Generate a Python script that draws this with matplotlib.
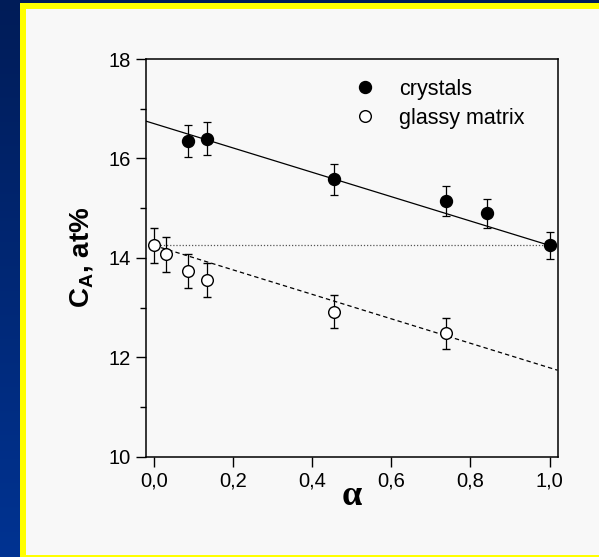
import numpy as np
import matplotlib
matplotlib.use("Agg")
import matplotlib.pyplot as plt
from matplotlib.lines import Line2D
from matplotlib.patches import Rectangle
from matplotlib.ticker import MultipleLocator, FixedLocator

# ---- data ----
alpha_crystals = [0.087, 0.135, 0.456, 0.738, 0.842, 1.0]
c_crystals = [16.35, 16.40, 15.58, 15.15, 14.90, 14.25]
err_crystals = [0.33, 0.33, 0.31, 0.30, 0.29, 0.28]

alpha_glassy = [0.0, 0.03, 0.087, 0.135, 0.456, 0.738]
c_glassy = [14.25, 14.07, 13.74, 13.56, 12.92, 12.48]
err_glassy = [0.35, 0.35, 0.34, 0.34, 0.33, 0.31]

crystal_line_alpha = [-0.02, 1.0]
crystal_line_c = [16.75, 14.25]
glassy_line_alpha = [0.0, 1.02]
glassy_line_c = [14.25, 11.74]
level_line_alpha = [0.0, 1.0]
level_line_c = [14.25, 14.25]

x_ticks = [0.0, 0.2, 0.4, 0.6, 0.8, 1.0]
x_tick_labels = ["0,0", "0,2", "0,4", "0,6", "0,8", "1,0"]
y_ticks = [10, 12, 14, 16, 18]
legend_labels = ["crystals", "glassy matrix"]

W, H = 599, 557
fig = plt.figure(figsize=(W / 100, H / 100), dpi=100)

# background gradient
bg = fig.add_axes([0, 0, 1, 1], zorder=-10)
bg.set_axis_off()
top = np.array([0x00, 0x1c, 0x58]) / 255
bot = np.array([0x00, 0x33, 0x92]) / 255
t = np.linspace(0, 1, 256)[:, None]
grad = (top[None, :] * (1 - t) + bot[None, :] * t)[:, None, :]
bg.imshow(grad, aspect="auto", extent=[0, 1, 0, 1], origin="upper")
bg.set_xlim(0, 1)
bg.set_ylim(0, 1)
# yellow framed panel
bg.add_patch(Rectangle((20 / W, 1 - 561 / H), 600 / W, 558 / H, facecolor="#ffff00", edgecolor="none"))
bg.add_patch(Rectangle((26 / W, 1 - 555 / H), 600 / W, 546 / H, facecolor="#f8f8f8", edgecolor="none"))

plt.rcParams["font.family"] = ["Liberation Sans", "DejaVu Sans"]

ax = fig.add_axes([146 / W, 1 - 456.7 / H, (557.5 - 146) / W, (456.7 - 59) / H])
ax.set_facecolor("none")

ax.plot(crystal_line_alpha, crystal_line_c, color="black", lw=0.9, zorder=2)
ax.plot(glassy_line_alpha, glassy_line_c, color="black", lw=0.9, dashes=(3.5, 2.5), zorder=2)
ax.plot(level_line_alpha, level_line_c, color="#555555", lw=0.9, dashes=(1, 1.5), zorder=2)

ax.errorbar(alpha_crystals, c_crystals, yerr=err_crystals, fmt="o", color="black",
            mfc="black", mec="black", ms=8.6, elinewidth=0.9, capsize=3, capthick=0.9, zorder=3)
ax.errorbar(alpha_glassy, c_glassy, yerr=err_glassy, fmt="o", color="black",
            mfc="white", mec="black", mew=1.0, ms=8.4, elinewidth=0.9, capsize=3, capthick=0.9, zorder=3)

ax.set_xlim(-0.02, 1.02)
ax.set_ylim(10, 18)
ax.xaxis.set_major_locator(FixedLocator(x_ticks))
ax.set_xticklabels(x_tick_labels)
ax.yaxis.set_major_locator(FixedLocator(y_ticks))
ax.yaxis.set_minor_locator(MultipleLocator(1))
ax.tick_params(axis="both", which="major", direction="out", length=7, width=1.0,
               labelsize=14.5, colors="black", pad=4)
ax.tick_params(axis="y", which="minor", direction="out", length=4, width=1.0)
for s in ax.spines.values():
    s.set_linewidth(1.1)

ax.set_ylabel(r"C$_\mathregular{A}$, at%", fontsize=20, fontweight="bold", labelpad=9)
ax.set_xlabel("α", fontsize=26, fontweight="bold",
              family=["Liberation Serif", "DejaVu Serif"], labelpad=-8)

handles = [Line2D([], [], ls="none", marker="o", ms=8.6, mfc="black", mec="black"),
           Line2D([], [], ls="none", marker="o", ms=8.4, mfc="white", mec="black", mew=1.0)]
ax.legend(handles, legend_labels, loc="upper left", bbox_to_anchor=(0.505, 0.950),
          frameon=False, fontsize=15.5, handlelength=1.0, handletextpad=1.1,
          borderpad=0, borderaxespad=0, labelspacing=0.36)

fig.savefig("out.png", dpi=100)
